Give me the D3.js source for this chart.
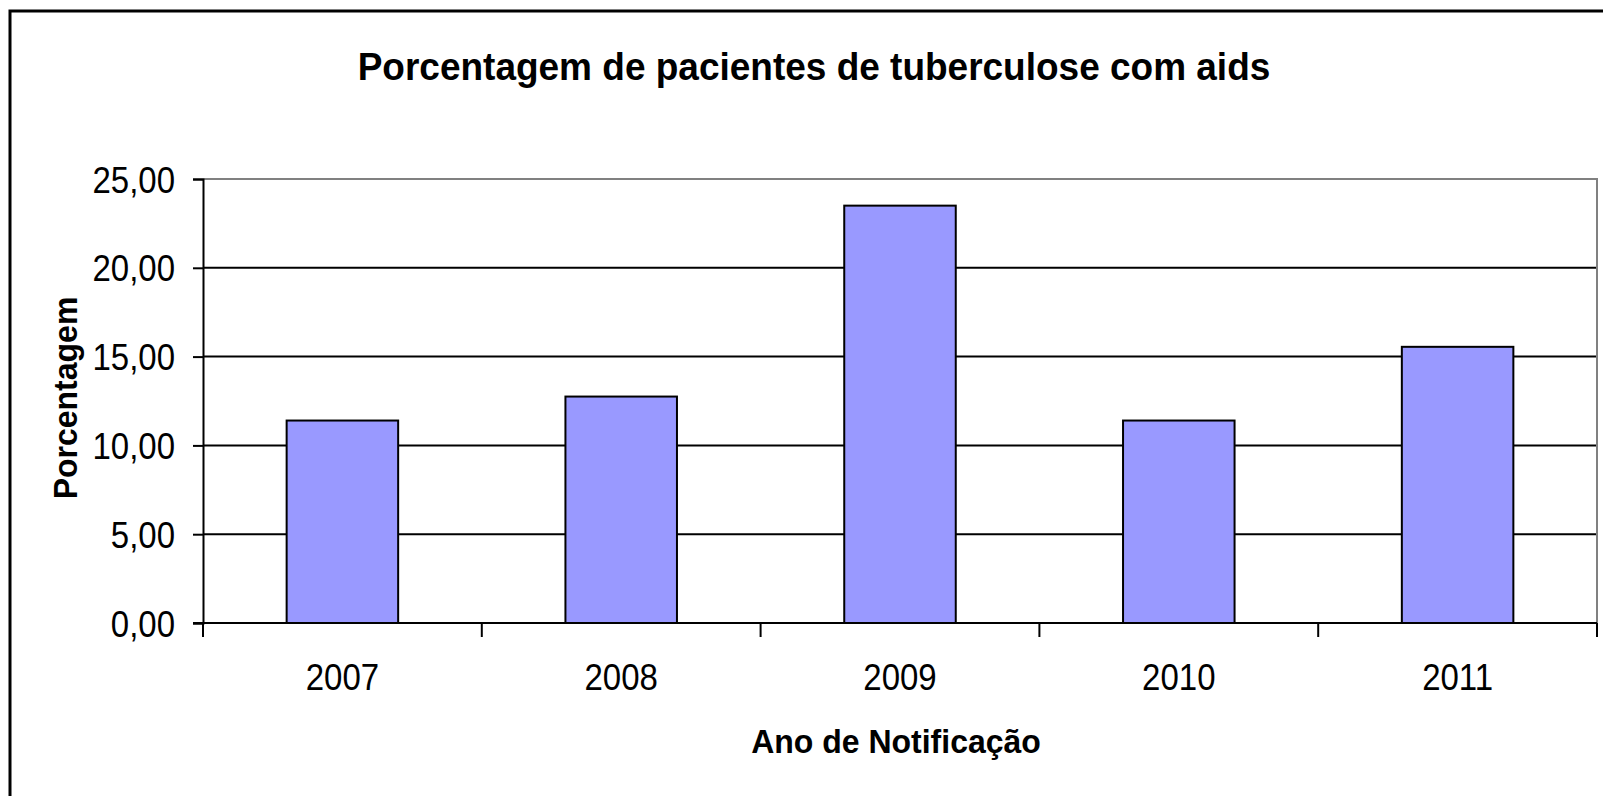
<!DOCTYPE html>
<html>
<head>
<meta charset="utf-8">
<script src="https://cdn.jsdelivr.net/npm/d3@7"></script>
<style>
  body { margin: 0; background: #fff; }
  svg { display: block; font-family: "Liberation Sans", Arial, sans-serif; }
</style>
</head>
<body>
<svg id="chart" width="1603" height="796"></svg>
<script>
/* data */
const years = ['2007', '2008', '2009', '2010', '2011'];
const percents = [11.4, 12.75, 23.5, 11.4, 15.55];
const yTicks = [0, 5, 10, 15, 20, 25];

const TITLE = 'Porcentagem de pacientes de tuberculose com aids';
const X_TITLE = 'Ano de Notificação';
const Y_TITLE = 'Porcentagem';

/* plot area */
const LEFT = 203, RIGHT = 1597, TOP = 179, BOTTOM = 623;
const STRETCH = 1.1; // the original text is a bit taller than it is wide

const svg = d3.select('#chart');

// outer frame (runs off the right and bottom of the picture)
svg.append('rect')
    .attr('x', 10).attr('y', 11)
    .attr('width', 1700).attr('height', 900)
    .attr('fill', 'white')
    .attr('stroke', 'black')
    .attr('stroke-width', 3);

const x = d3.scaleBand().domain(years).range([LEFT, RIGHT]).paddingInner(0.6).paddingOuter(0.3);
const xEdges = d3.scaleLinear().domain([0, years.length]).range([LEFT, RIGHT]);
const y = d3.scaleLinear().domain([0, 25]).range([BOTTOM, TOP]);

const fmt = v => d3.format('.2f')(v).replace('.', ',');

// gridlines
svg.append('g')
    .selectAll('line')
    .data(yTicks.filter(t => t > 0 && t < 25))
    .join('line')
    .attr('x1', LEFT).attr('x2', RIGHT)
    .attr('y1', d => y(d)).attr('y2', d => y(d))
    .attr('stroke', 'black')
    .attr('stroke-width', 2);

// plot box top and right (gray)
svg.append('path')
    .attr('d', `M${LEFT},${TOP}H${RIGHT}V${BOTTOM}`)
    .attr('fill', 'none')
    .attr('stroke', '#808080')
    .attr('stroke-width', 2);

// bars
svg.append('g')
    .selectAll('rect')
    .data(years)
    .join('rect')
    .attr('x', d => x(d))
    .attr('width', x.bandwidth())
    .attr('y', (d, i) => y(percents[i]))
    .attr('height', (d, i) => BOTTOM - y(percents[i]))
    .attr('fill', '#9999ff')
    .attr('stroke', 'black')
    .attr('stroke-width', 2);

// y axis
const yAxis = svg.append('g')
    .attr('transform', `translate(${LEFT},0)`)
    .call(d3.axisLeft(y).tickValues(yTicks).tickFormat(fmt).tickSize(10).tickPadding(18));
yAxis.select('.domain').attr('stroke', 'black').attr('stroke-width', 2);
yAxis.selectAll('.tick line').attr('stroke', 'black').attr('stroke-width', 2);
yAxis.selectAll('.tick text')
    .attr('font-size', 33)
    .attr('fill', 'black')
    .attr('dy', '0.36em')
    .attr('transform', `scale(1,${STRETCH})`)
    .style('font-family', '"Liberation Sans", Arial, sans-serif');

// x axis baseline and ticks at category edges
svg.append('line')
    .attr('x1', LEFT - 10).attr('x2', RIGHT)
    .attr('y1', BOTTOM).attr('y2', BOTTOM)
    .attr('stroke', 'black').attr('stroke-width', 2);
svg.append('g')
    .selectAll('line')
    .data(d3.range(years.length + 1))
    .join('line')
    .attr('x1', d => xEdges(d)).attr('x2', d => xEdges(d))
    .attr('y1', BOTTOM).attr('y2', BOTTOM + 14)
    .attr('stroke', 'black').attr('stroke-width', 2);
svg.append('g')
    .selectAll('text')
    .data(years)
    .join('text')
    .attr('transform', d => `translate(${x(d) + x.bandwidth() / 2},690) scale(1,${STRETCH})`)
    .attr('text-anchor', 'middle')
    .attr('font-size', 33)
    .text(d => d);

// titles
svg.append('text')
    .attr('transform', `translate(814,80) scale(1,1.05)`)
    .attr('text-anchor', 'middle')
    .attr('font-size', 37)
    .attr('font-weight', 'bold')
    .text(TITLE);

svg.append('text')
    .attr('transform', `translate(896,753) scale(1,1.05)`)
    .attr('text-anchor', 'middle')
    .attr('font-size', 32)
    .attr('font-weight', 'bold')
    .text(X_TITLE);

svg.append('text')
    .attr('transform', `translate(77,${(TOP + BOTTOM) / 2 - 3}) rotate(-90) scale(1,1.05)`)
    .attr('text-anchor', 'middle')
    .attr('font-size', 32)
    .attr('font-weight', 'bold')
    .text(Y_TITLE);
</script>
</body>
</html>
